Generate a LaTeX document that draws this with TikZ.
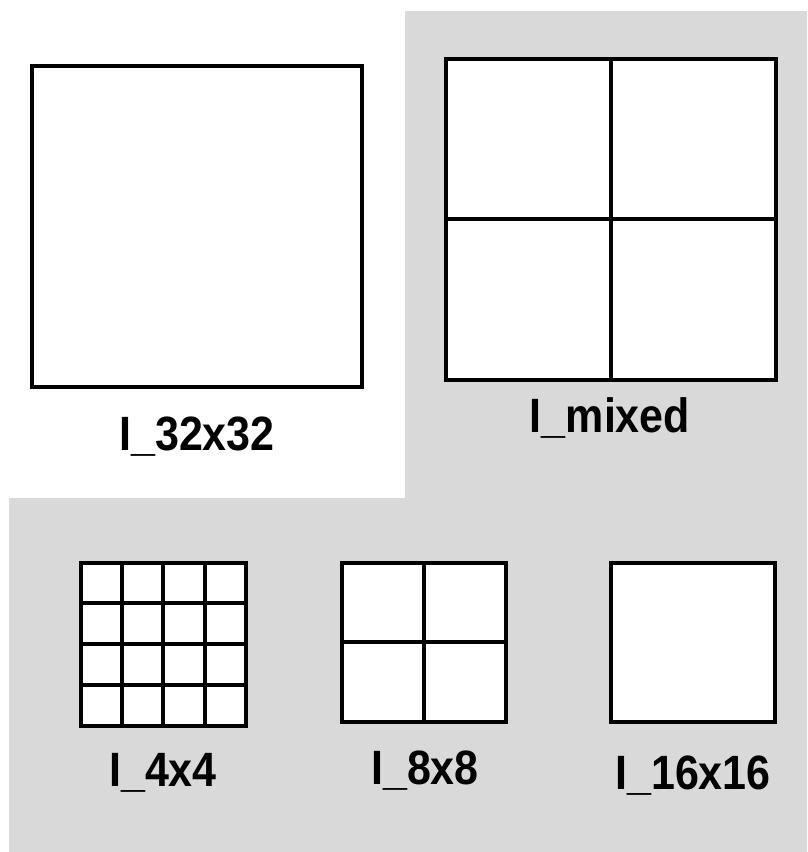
\documentclass[tikz,border=0pt]{standalone}
\usepackage{fontspec}
\setmainfont{Liberation Sans}
\usetikzlibrary{positioning}
\definecolor{panelgray}{RGB}{217,217,217}
\tikzset{blockline/.style={line width=4pt,draw=black},
  blocklabel/.style={font=\fontsize{43}{48}\selectfont\bfseries,inner sep=0pt,yscale=1.12,transform shape}}
% block with n x n equal parts, corners (#1,#2) and (#3,#4)
\newcommand{\splitblock}[5]{\begin{scope}
  \draw[blockline,fill=white] (#1,#2) rectangle (#3,#4);
  \ifnum#5>1
  \foreach \k in {2,...,#5}{
    \draw[blockline] ({#1+(#3-#1)*(\k-1)/#5},#2)--({#1+(#3-#1)*(\k-1)/#5},#4);
    \draw[blockline] (#1,{#2+(#4-#2)*(\k-1)/#5})--(#3,{#2+(#4-#2)*(\k-1)/#5});}
  \fi\end{scope}}

\begin{document}
\begin{tikzpicture}[x=1pt,y=-1pt]
\useasboundingbox (0,0) rectangle (807,852);
\fill[panelgray] (405,11)--(807,11)--(807,852)--(9,852)--(9,498)--(405,498)--cycle;
\splitblock{32}{65.5}{361.5}{386.5}{1}
\splitblock{445.5}{58.5}{775.5}{379.5}{2}
\splitblock{80.5}{562.5}{246}{725.5}{4}
\splitblock{342}{562.5}{505.5}{722}{2}
\splitblock{611}{562.5}{775}{722}{1}
\node[blocklabel] (l32) at (197,437) {I\_32x32};
\node[blocklabel] (lmix) at (610,418) {I\_mixed};
\node[blocklabel] (l4) at (163,773) {I\_4x4};
\node[blocklabel] (l8) at (425,771) {I\_8x8};
\node[blocklabel] (l16) at (693,776) {I\_16x16};
\end{tikzpicture}
\end{document}
